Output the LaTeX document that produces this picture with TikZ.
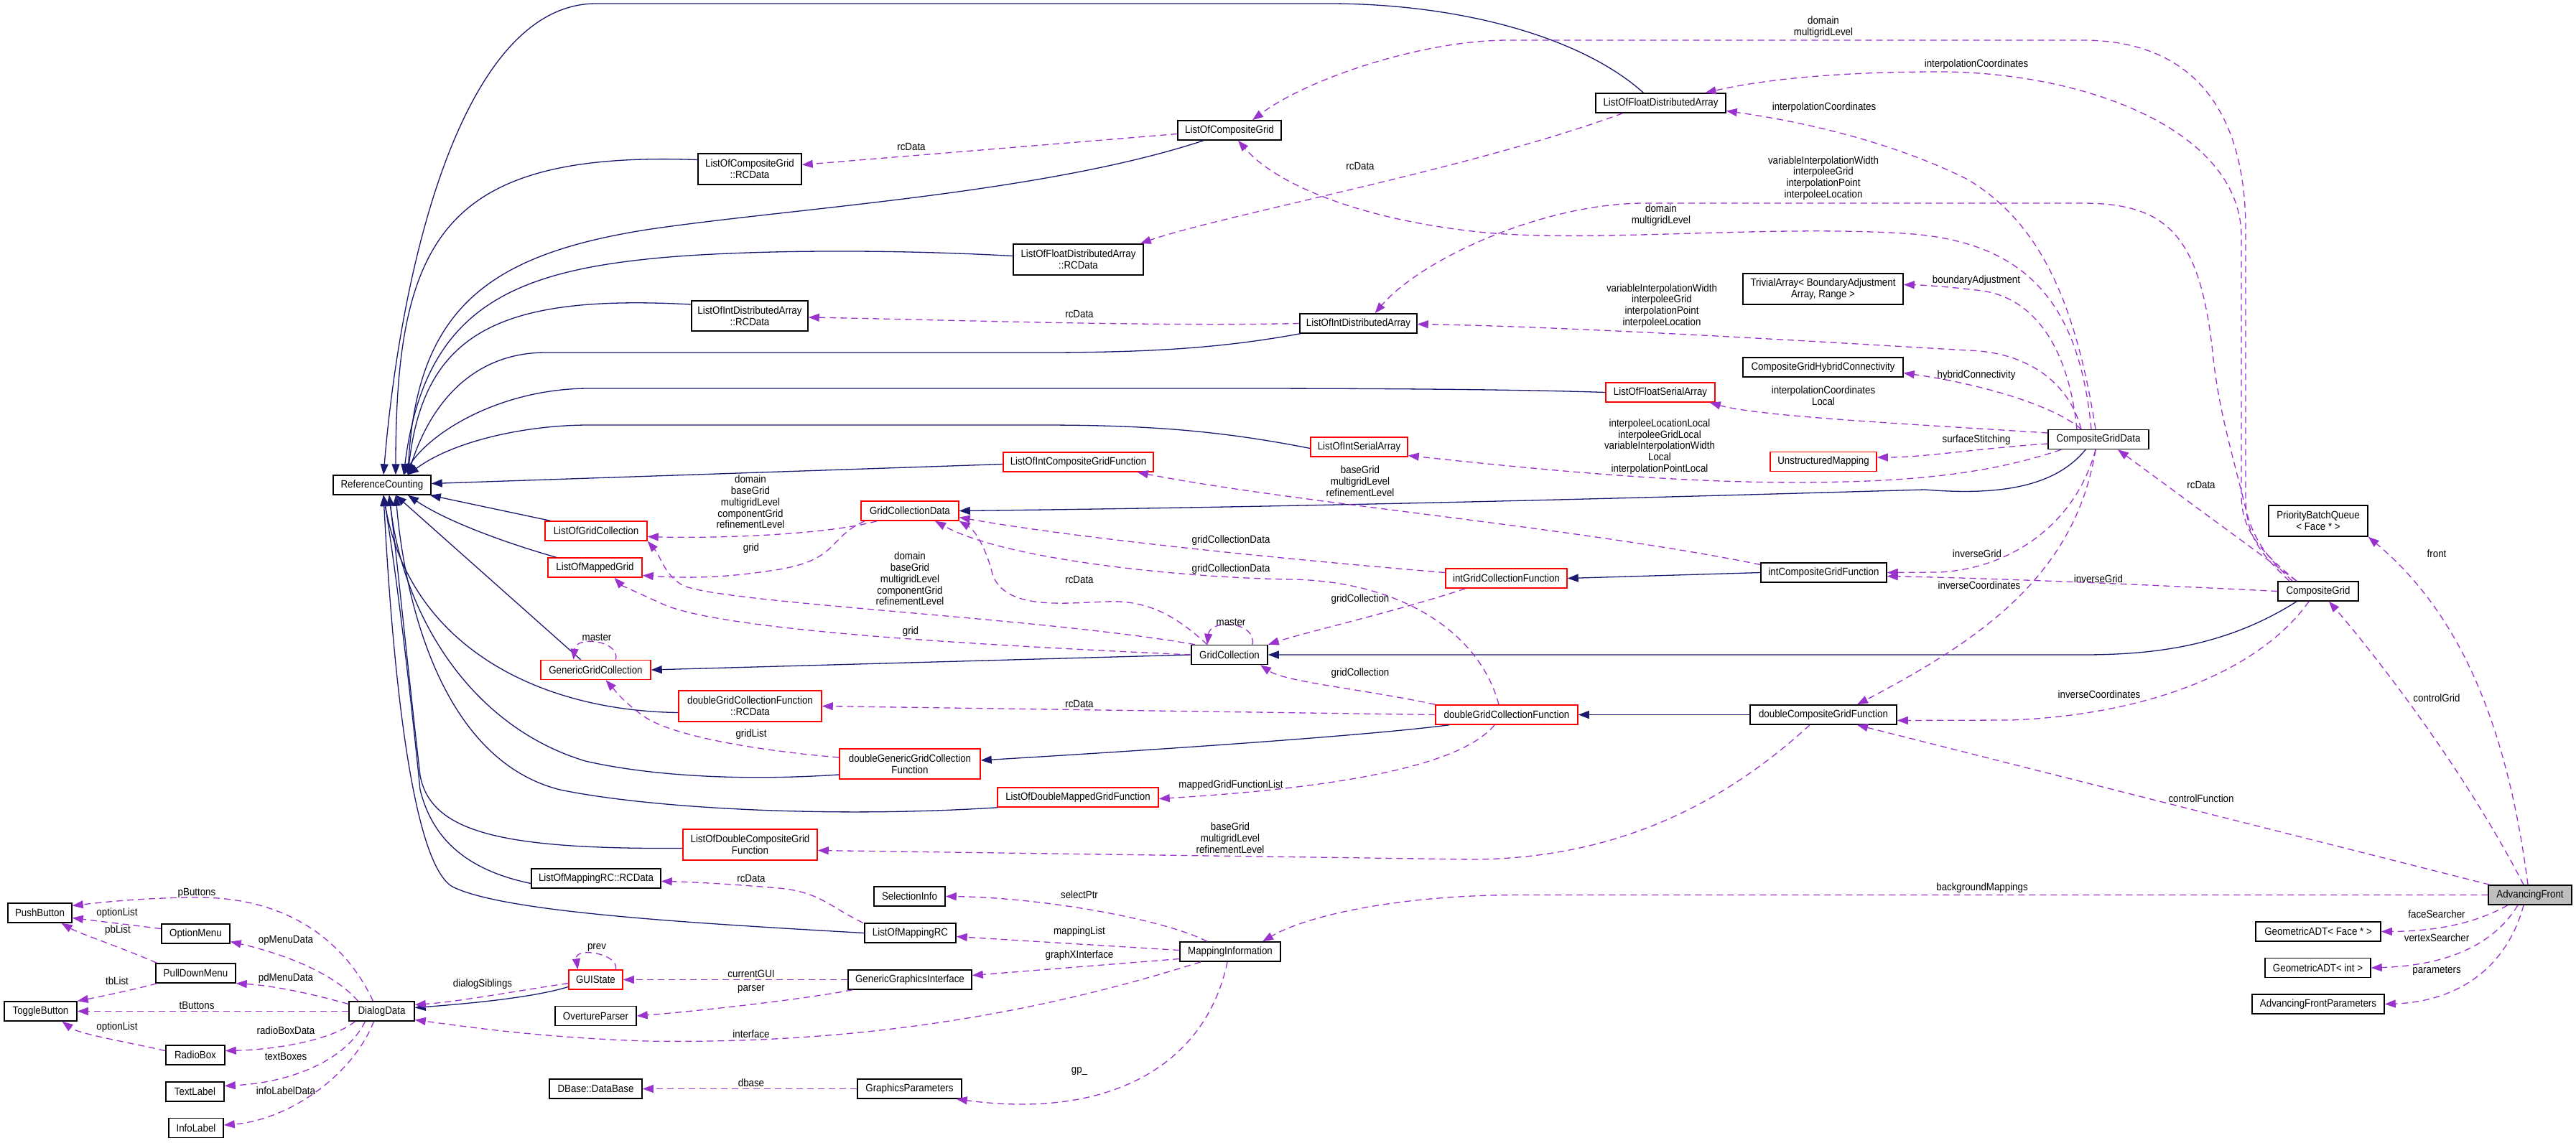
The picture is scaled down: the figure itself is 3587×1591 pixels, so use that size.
\documentclass[tikz,border=0pt]{standalone}
\usepackage{fontspec}
\newfontfamily\dfont[FakeStretch=0.9]{Liberation Sans}
\usetikzlibrary{arrows.meta}
\definecolor{navy}{RGB}{25,25,112}
\definecolor{purp}{RGB}{154,50,205}
\definecolor{afgray}{RGB}{191,191,191}
\begin{document}
\begin{tikzpicture}[x=1pt,y=-1pt,
  every node/.style={font={\dfont\fontsize{14.8pt}{15.8pt}\selectfont}},
  cbox/.style={draw=black,line width=1.5pt,fill=white,inner sep=0pt,align=center},
  rbox/.style={cbox,draw=red},
  inhedge/.style={draw=navy,line width=1.3pt,-{Triangle[length=15pt,width=11pt]}},
  usedge/.style={draw=purp,line width=1.3pt,dash pattern=on 9pt off 6pt,-{Triangle[length=15pt,width=11pt]}},
  elabel/.style={inner sep=0pt,align=center}]
\useasboundingbox (0,0) rectangle (3587,1591);

% ---------- nodes ----------
\node[cbox,minimum width=136pt,minimum height=27pt] (RC) at (532,675.5) {ReferenceCounting};
\node[cbox,minimum width=144pt,minimum height=27pt] (LoCG) at (1712,181.5) {ListOfCompositeGrid};
\node[cbox,minimum width=144pt,minimum height=43pt] (LoCGRC) at (1044,235.5) {ListOfCompositeGrid\\::RCData};
\node[cbox,minimum width=181pt,minimum height=27pt] (LoFDA) at (2312.5,143.5) {ListOfFloatDistributedArray};
\node[cbox,minimum width=181pt,minimum height=43pt] (LoFDARC) at (1501.5,361.5) {ListOfFloatDistributedArray\\::RCData};
\node[cbox,minimum width=162pt,minimum height=42pt] (LoIDARC) at (1044,440) {ListOfIntDistributedArray\\::RCData};
\node[cbox,minimum width=163pt,minimum height=27pt] (LoIDA) at (1891.5,450.5) {ListOfIntDistributedArray};
\node[cbox,minimum width=223pt,minimum height=43pt] (TA) at (2538.5,402.5) {TrivialArray< BoundaryAdjustment\\Array, Range >};
\node[cbox,minimum width=223pt,minimum height=27pt] (CGHC) at (2538.5,511.5) {CompositeGridHybridConnectivity};
\node[rbox,minimum width=152pt,minimum height=27pt] (LoFSA) at (2312,546.5) {ListOfFloatSerialArray};
\node[rbox,minimum width=135pt,minimum height=27pt] (LoISA) at (1892.5,622.5) {ListOfIntSerialArray};
\node[rbox,minimum width=148pt,minimum height=27pt] (UM) at (2539,643) {UnstructuredMapping};
\node[cbox,minimum width=140pt,minimum height=27pt] (CGD) at (2922,612) {CompositeGridData};
\node[cbox,minimum width=138pt,minimum height=43pt] (PBQ) at (3228,725.5) {PriorityBatchQueue\\< Face * >};
\node[cbox,minimum width=112pt,minimum height=27pt] (CG) at (3228,823.5) {CompositeGrid};
\node[rbox,minimum width=209pt,minimum height=27pt] (LoICGF) at (1501.5,643.5) {ListOfIntCompositeGridFunction};
\node[rbox,minimum width=136pt,minimum height=27pt] (GCD) at (1267,711.5) {GridCollectionData};
\node[cbox,minimum width=175pt,minimum height=27pt] (intCGF) at (2539.5,797.5) {intCompositeGridFunction};
\node[rbox,minimum width=169pt,minimum height=27pt] (intGCF) at (2097.5,805.5) {intGridCollectionFunction};
\node[rbox,minimum width=142pt,minimum height=27pt] (LoGC) at (830,739.5) {ListOfGridCollection};
\node[rbox,minimum width=131pt,minimum height=27pt] (LoMG) at (828.5,790.5) {ListOfMappedGrid};
\node[rbox,minimum width=153pt,minimum height=27pt] (GGC) at (829.5,933) {GenericGridCollection};
\node[cbox,minimum width=106pt,minimum height=27pt] (GC) at (1712,912) {GridCollection};
\node[rbox,minimum width=199pt,minimum height=43pt] (dGCFRC) at (1044.5,983.5) {doubleGridCollectionFunction\\::RCData};
\node[rbox,minimum width=198pt,minimum height=27pt] (dGCF) at (2098,995.5) {doubleGridCollectionFunction};
\node[cbox,minimum width=204pt,minimum height=27pt] (dCGF) at (2539,995.5) {doubleCompositeGridFunction};
\node[rbox,minimum width=196pt,minimum height=42pt] (dGGCF) at (1267,1064) {doubleGenericGridCollection\\Function};
\node[rbox,minimum width=224pt,minimum height=27pt] (LoDMGF) at (1501,1110.5) {ListOfDoubleMappedGridFunction};
\node[rbox,minimum width=187pt,minimum height=43pt] (LoDCGF) at (1044.5,1176.5) {ListOfDoubleCompositeGrid\\Function};
\node[cbox,fill=afgray,minimum width=116pt,minimum height=27pt] (AF) at (3523,1246.5) {AdvancingFront};
\node[cbox,minimum width=174pt,minimum height=27pt] (GADTF) at (3228,1297.5) {GeometricADT< Face * >};
\node[cbox,minimum width=147pt,minimum height=27pt] (GADTI) at (3227.5,1348) {GeometricADT< int >};
\node[cbox,minimum width=184pt,minimum height=27pt] (AFP) at (3228,1398.5) {AdvancingFrontParameters};
\node[cbox,minimum width=180pt,minimum height=27pt] (LoMRCRC) at (830,1223.5) {ListOfMappingRC::RCData};
\node[cbox,minimum width=99pt,minimum height=27pt] (SI) at (1266.5,1248.5) {SelectionInfo};
\node[cbox,minimum width=127pt,minimum height=27pt] (LoMRC) at (1267.5,1299.5) {ListOfMappingRC};
\node[cbox,minimum width=140pt,minimum height=27pt] (MI) at (1713,1325.5) {MappingInformation};
\node[cbox,minimum width=172pt,minimum height=27pt] (GGI) at (1267,1364.5) {GenericGraphicsInterface};
\node[cbox,minimum width=145pt,minimum height=27pt] (GP) at (1266.5,1516.5) {GraphicsParameters};
\node[cbox,minimum width=129pt,minimum height=27pt] (DB) at (829.5,1516.5) {DBase::DataBase};
\node[rbox,minimum width=75pt,minimum height=27pt] (GUI) at (829.5,1364.5) {GUIState};
\node[cbox,minimum width=113pt,minimum height=27pt] (OP) at (829.5,1415) {OvertureParser};
\node[cbox,minimum width=91pt,minimum height=27pt] (DD) at (531.5,1408.5) {DialogData};
\node[cbox,minimum width=89pt,minimum height=27pt] (PB) at (55.5,1271.5) {PushButton};
\node[cbox,minimum width=95pt,minimum height=27pt] (OM) at (272.5,1300.5) {OptionMenu};
\node[cbox,minimum width=111pt,minimum height=27pt] (PDM) at (272.5,1355.5) {PullDownMenu};
\node[cbox,minimum width=101pt,minimum height=27pt] (TB) at (56.5,1408.5) {ToggleButton};
\node[cbox,minimum width=82pt,minimum height=27pt] (RB) at (272,1469.5) {RadioBox};
\node[cbox,minimum width=81pt,minimum height=27pt] (TL) at (271.5,1520.5) {TextLabel};
\node[cbox,minimum width=76pt,minimum height=27pt] (IL) at (273,1571) {InfoLabel};

% ---------- inheritance edges ----------
\draw[inhedge] ([xshift=-24pt]LoFDA.north) .. controls (2200,50) and (2030,5) .. (1850,5) -- (830,5) .. controls (650,5) and (560,350) .. ([xshift=2pt]RC.north);
\draw[inhedge] ([yshift=13pt]LoCGRC.west) .. controls (620,210) and (551,330) .. ([xshift=19pt]RC.north);
\draw[inhedge] ([xshift=-36pt]LoCG.south) .. controls (1450,270) and (1100,290) .. (900,320) .. controls (680,355) and (580,430) .. ([xshift=36pt]RC.north);
\draw[inhedge] ([yshift=5pt]LoFDARC.west) .. controls (1200,345) and (1000,350) .. (900,361) .. controls (700,382) and (590,440) .. ([xshift=30pt]RC.north);
\draw[inhedge] ([yshift=16pt]LoIDARC.west) .. controls (700,410) and (590,460) .. ([xshift=36pt]RC.north);
\draw[inhedge] ([xshift=-81pt]LoIDA.south) .. controls (1700,485) and (1600,491) .. (1450,491) -- (760,491) .. controls (660,491) and (600,560) .. ([xshift=36pt]RC.north);
\draw[inhedge] (LoFSA.west) .. controls (2100,542) and (1900,541) .. (1700,541) -- (820,541) .. controls (700,541) and (600,600) .. ([xshift=30pt]RC.north);
\draw[inhedge] ([yshift=-2pt]LoISA.west) .. controls (1700,600) and (1600,592) .. (1450,592) -- (820,592) .. controls (730,592) and (630,615) .. ([xshift=36pt]RC.north);
\draw[inhedge] ([yshift=-3pt]LoICGF.west) -- ([yshift=2pt]RC.east);
\draw[inhedge] ([xshift=-64pt]LoGC.north) -- ([xshift=-2pt]RC.south east);
\draw[inhedge] ([xshift=-54pt]LoMG.north) .. controls (700,755) and (620,725) .. ([xshift=36pt]RC.south);
\draw[inhedge] ([xshift=-21pt]GGC.north) -- ([xshift=19pt]RC.south);
\draw[inhedge] ([yshift=-9pt]dGCFRC.west) .. controls (750,990) and (570,900) .. ([xshift=2pt]RC.south);
\draw[inhedge] ([yshift=-15pt]dGGCF.west) .. controls (1000,1090) and (880,1075) .. (815,1060) .. controls (650,1010) and (560,850) .. ([xshift=10pt]RC.south);
\draw[inhedge] ([xshift=-112pt]LoDMGF.south) .. controls (1150,1140) and (900,1125) .. (780,1100) .. controls (620,1060) and (565,850) .. ([xshift=19pt]RC.south);
\draw[inhedge] ([yshift=-5pt]LoDCGF.west) .. controls (700,1183) and (600,1160) .. (585,1080) .. controls (570,950) and (555,800) .. ([xshift=10pt]RC.south);
\draw[inhedge] ([yshift=-7pt]LoMRCRC.west) .. controls (640,1210) and (600,1160) .. (585,1100) .. controls (570,950) and (552,800) .. ([xshift=2pt]RC.south);
\draw[inhedge] (LoMRC.west) .. controls (950,1285) and (700,1270) .. (630,1235) .. controls (570,1200) and (545,900) .. ([xshift=2pt]RC.south);
\draw[inhedge] ([yshift=-10pt]GUI.west) .. controls (740,1390) and (650,1398) .. ([yshift=5pt]DD.east);
\draw[inhedge] ([xshift=-18pt]CGD.south) .. controls (2860,680) and (2780,690) .. (2680,682) .. controls (2400,690) and (1900,705) .. (GCD.east);
\draw[inhedge] ([xshift=-30pt]CG.south) .. controls (3100,900) and (3000,912) .. (2900,912) -- (GC.east);
\draw[inhedge] (intCGF.west) -- (intGCF.east);
\draw[inhedge] (dCGF.west) -- (dGCF.east);
\draw[inhedge] (GC.west) -- (GGC.east);
\draw[inhedge] ([xshift=-80pt]dGCF.south) .. controls (1900,1025) and (1600,1045) .. ([yshift=5pt]dGGCF.east);

% ---------- usage edges ----------
\draw[usedge] ([yshift=-5pt]LoCG.west) -- ([yshift=6pt]LoCGRC.east);
\draw[usedge] ([xshift=-40pt]CG.north) .. controls (3140,765) and (3127,740) .. (3127,690) -- (3127,320) .. controls (3127,150) and (3050,56) .. (2900,56) -- (2100,56) .. controls (1980,56) and (1820,110) .. ([xshift=32pt]LoCG.north);
\draw[usedge] ([xshift=-30pt]CG.north) .. controls (3150,770) and (3121,740) .. (3121,690) -- (3121,330) .. controls (3121,180) and (2900,100) .. (2700,100) .. controls (2550,100) and (2450,112) .. ([xshift=62pt]LoFDA.north);
\draw[usedge] ([xshift=-36pt]CG.north) .. controls (3150,770) and (3135,745) .. (3125,700) .. controls (3105,620) and (3090,570) .. (3082,500) .. controls (3065,330) and (3020,283) .. (2900,283) -- (2290,283) .. controls (2150,283) and (1980,360) .. ([xshift=23pt]LoIDA.north);
\draw[usedge] ([xshift=-4pt]CGD.north) .. controls (2890,420) and (2840,310) .. (2740,250) .. controls (2620,190) and (2480,165) .. ([yshift=-11pt]LoFDA.east);
\draw[usedge] ([xshift=-10pt]CGD.north) .. controls (2895,420) and (2820,335) .. (2650,325) .. controls (2450,313) and (2200,340) .. (2050,322) .. controls (1900,305) and (1780,260) .. ([xshift=12pt]LoCG.south);
\draw[usedge] ([xshift=-53pt]LoFDA.south) .. controls (2050,235) and (1700,300) .. ([xshift=-5pt]LoFDARC.north east);
\draw[usedge] ([xshift=-24pt]CGD.north) .. controls (2880,530) and (2820,490) .. (2740,488) .. controls (2600,480) and (2200,455) .. ([yshift=-1pt]LoIDA.east);
\draw[usedge] (LoIDA.west) .. controls (1600,455) and (1300,445) .. ([yshift=-2pt]LoIDARC.east);
\draw[usedge] ([xshift=-30pt]CGD.north) .. controls (2880,480) and (2830,415) .. (2760,405) .. controls (2720,400) and (2680,397) .. ([yshift=6pt]TA.east);
\draw[usedge] ([xshift=-24pt]CGD.north) .. controls (2860,565) and (2760,535) .. ([yshift=-8pt]CGHC.east);
\draw[usedge] ([yshift=9pt]CGD.west) .. controls (2650,590) and (2450,580) .. ([xshift=-8pt]LoFSA.south east);
\draw[usedge] ([yshift=-6pt]CGD.west) .. controls (2750,625) and (2680,637) .. ([yshift=6pt]UM.east);
\draw[usedge] ([xshift=-52pt]CGD.south) .. controls (2800,650) and (2720,665) .. (2600,670) .. controls (2400,678) and (2200,660) .. ([yshift=-12pt]LoISA.east);
\draw[usedge] ([xshift=-30pt]CG.north) -- ([xshift=27pt]CGD.south);
\draw[usedge] (CG.west) .. controls (3000,815) and (2800,806) .. ([yshift=-5pt]intCGF.east);
\draw[usedge] ([xshift=-4pt]CGD.south) .. controls (2890,730) and (2800,792) .. (2700,797) -- (intCGF.east);
\draw[usedge] ([xshift=-4pt]CGD.south) .. controls (2890,800) and (2760,890) .. ([xshift=47pt]dCGF.north);
\draw[usedge] ([xshift=-13pt]CG.south) .. controls (3150,930) and (3000,995) .. (2800,1003) -- ([yshift=-8pt]dCGF.east);
\draw[usedge] ([xshift=-9pt]AF.north) .. controls (3420,1050) and (3280,880) .. ([xshift=15pt]CG.south);
\draw[usedge] ([xshift=-3pt]AF.north) .. controls (3490,1000) and (3420,850) .. (PBQ.south east);
\draw[usedge] ([xshift=-56pt]AF.north) -- ([xshift=47pt]dCGF.south);
\draw[usedge] (AF.west) -- (2120,1246.5) .. controls (1950,1246) and (1820,1275) .. ([xshift=45pt]MI.north);
\draw[usedge] ([xshift=-31pt]AF.south) .. controls (3440,1290) and (3380,1297) .. (GADTF.east);
\draw[usedge] ([xshift=-17pt]AF.south) .. controls (3470,1320) and (3400,1345) .. (GADTI.east);
\draw[usedge] ([xshift=-9pt]AF.south) .. controls (3490,1350) and (3420,1395) .. (AFP.east);
\draw[usedge] ([xshift=-19pt]dCGF.south) .. controls (2400,1120) and (2250,1196) .. (2050,1197) -- ([yshift=-8pt]LoDCGF.east);
\draw[usedge] ([xshift=-17pt]dGCF.south) .. controls (2040,1060) and (1900,1095) .. ([yshift=-2pt]LoDMGF.east);
\draw[usedge] (dGCF.west) -- (dGCFRC.east);
\draw[usedge] (dGCF.north west) .. controls (1900,960) and (1790,950) .. ([xshift=43pt]GC.south);
\draw[usedge] ([xshift=-57pt]intGCF.south) .. controls (1950,850) and (1820,880) .. (GC.north east);
\draw[usedge] ([xshift=-11pt]dGCF.north) .. controls (2060,880) and (1950,810) .. (1800,807) .. controls (1650,805) and (1400,780) .. ([xshift=35pt]GCD.south);
\draw[usedge] ([yshift=8pt]intGCF.west) .. controls (1800,780) and (1500,750) .. ([yshift=-9pt]GCD.east);
\draw[usedge] ([yshift=11pt]intCGF.west) .. controls (2200,735) and (1800,700) .. ([xshift=-23pt]LoICGF.south east);
\draw[usedge] ([xshift=-31pt]GC.north) .. controls (1640,860) and (1600,835) .. (1540,838) .. controls (1480,840) and (1400,850) .. (1382,800) .. controls (1375,770) and (1360,740) .. (GCD.south east);
\draw[usedge] ([xshift=32pt]GC.north) .. controls (1750,865) and (1685,862) .. ([xshift=-31pt]GC.north);
\draw[usedge] ([xshift=-46pt]GCD.south) .. controls (1150,745) and (1000,750) .. ([yshift=-8pt]LoGC.east);
\draw[usedge] ([xshift=-63pt]GCD.south) .. controls (1150,750) and (1170,782) .. (1072,795) .. controls (1000,806) and (950,805) .. ([yshift=-11pt]LoMG.east);
\draw[usedge] ([xshift=-48pt]GC.north) .. controls (1450,860) and (1000,840) .. (950,815) .. controls (925,800) and (920,775) .. (LoGC.south east);
\draw[usedge] (GC.west) .. controls (1400,900) and (1000,880) .. (920,840) .. controls (880,822) and (865,815) .. ([xshift=27pt]LoMG.south);
\draw[usedge] ([xshift=28pt]GGC.north) .. controls (864,892) and (802,885) .. ([xshift=-31pt]GGC.north);
\draw[usedge] ([yshift=9pt]dGGCF.west) .. controls (1050,1045) and (940,1025) .. (900,1000) .. controls (870,980) and (855,960) .. ([xshift=14pt]GGC.south);
\draw[usedge] ([yshift=2pt]MI.west) -- ([yshift=-5pt]LoMRC.east);
\draw[usedge] ([xshift=-32pt]MI.north) .. controls (1620,1280) and (1450,1250) .. (SI.east);
\draw[usedge] ([yshift=-10pt]MI.west) -- ([yshift=6pt]GGI.east);
\draw[usedge] ([xshift=-41pt]MI.south) .. controls (1450,1410) and (1200,1455) .. (900,1450) .. controls (750,1445) and (650,1430) .. ([yshift=-12pt]DD.east);
\draw[usedge] ([xshift=-4pt]MI.south) .. controls (1680,1480) and (1550,1560) .. ([xshift=-8pt]GP.south east);
\draw[usedge] (GP.west) -- (DB.east);
\draw[usedge] ([xshift=-66pt]LoMRC.north) .. controls (1150,1260) and (1140,1240) .. (1072,1236) .. controls (1000,1230) and (950,1228) .. ([yshift=-4pt]LoMRCRC.east);
\draw[usedge] (GGI.west) -- (GUI.east);
\draw[usedge] ([xshift=-80pt]GGI.south) .. controls (1100,1395) and (950,1410) .. (OP.east);
\draw[usedge] ([yshift=-5pt]GUI.west) .. controls (720,1380) and (640,1395) .. ([yshift=9pt]DD.east);
\draw[usedge] ([xshift=28pt]GUI.north) .. controls (862,1328) and (800,1318) .. ([xshift=-25pt]GUI.north);
\draw[usedge] ([xshift=-12pt]DD.north) .. controls (480,1310) and (400,1250) .. (276,1250) .. controls (200,1250) and (130,1258) .. ([yshift=10pt]PB.east);
\draw[usedge] ([yshift=7pt]OM.west) -- ([yshift=-7pt]PB.east);
\draw[usedge] ([xshift=-54pt]PDM.north) .. controls (170,1320) and (110,1300) .. ([xshift=30pt]PB.south);
\draw[usedge] ([xshift=-33pt]DD.north) .. controls (460,1350) and (380,1325) .. ([yshift=-11pt]OM.east);
\draw[usedge] ([yshift=10pt]DD.west) .. controls (420,1380) and (370,1372) .. (PDM.south east);
\draw[usedge] ([xshift=-54pt]PDM.south) .. controls (180,1380) and (130,1390) .. (TB.north east);
\draw[usedge] (DD.west) -- (TB.east);
\draw[usedge] ([yshift=6pt]RB.west) .. controls (170,1450) and (110,1440) .. ([xshift=30pt]TB.south);
\draw[usedge] ([xshift=-37pt]DD.south) .. controls (460,1450) and (380,1462) .. ([yshift=6pt]RB.east);
\draw[usedge] ([xshift=-23pt]DD.south) .. controls (480,1480) and (400,1508) .. ([yshift=8pt]TL.east);
\draw[usedge] ([xshift=-11pt]DD.south) .. controls (490,1500) and (400,1560) .. ([yshift=4pt]IL.east);

% ---------- labels ----------
\node[elabel] (l1) at (1269,204) {rcData};
\node[elabel] (l2) at (2539,38) {domain\\multigridLevel};
\node[elabel] (l3) at (2752,90) {interpolationCoordinates};
\node[elabel] (l4) at (2540,150) {interpolationCoordinates};
\node[elabel] (l5) at (2313,300) {domain\\multigridLevel};
\node[elabel] (l6) at (1894,231) {rcData};
\node[elabel] (l7) at (2314,426) {variableInterpolationWidth\\interpoleeGrid\\interpolationPoint\\interpoleeLocation};
\node[elabel] (l8) at (2539,248) {variableInterpolationWidth\\interpoleeGrid\\interpolationPoint\\interpoleeLocation};
\node[elabel] (l9) at (1503,437) {rcData};
\node[elabel] (l10) at (2752,391) {boundaryAdjustment};
\node[elabel] (l11) at (2752,523) {hybridConnectivity};
\node[elabel] (l12) at (2539,551) {interpolationCoordinates\\Local};
\node[elabel] (l13) at (2752,613) {surfaceStitching};
\node[elabel] (l14) at (2311,622) {interpoleeLocationLocal\\interpoleeGridLocal\\variableInterpolationWidth\\Local\\interpolationPointLocal};
\node[elabel] (l16) at (3065,675) {rcData};
\node[elabel] (l17a) at (2922,806) {inverseGrid};
\node[elabel] (l17b) at (2753,771) {inverseGrid};
\node[elabel] (l17c) at (2756,815) {inverseCoordinates};
\node[elabel] (l18) at (2923,967) {inverseCoordinates};
\node[elabel] (l22) at (3393,972) {controlGrid};
\node[elabel] (l23) at (3393,771) {front};
\node[elabel] (l24) at (3065,1112) {controlFunction};
\node[elabel] (l25) at (2760,1237) {backgroundMappings};
\node[elabel] (l26) at (3393,1273) {faceSearcher};
\node[elabel] (l27) at (3393,1306) {vertexSearcher};
\node[elabel] (l28) at (3393,1352) {parameters};
\node[elabel] (l29) at (1713,1167) {baseGrid\\multigridLevel\\refinementLevel};
\node[elabel] (l29b) at (1714,1094) {mappedGridFunctionList};
\node[elabel] (l30) at (1503,980) {rcData};
\node[elabel] (l31) at (1894,938) {gridCollection};
\node[elabel] (l32) at (1894,835) {gridCollection};
\node[elabel] (l33) at (1714,793) {gridCollectionData};
\node[elabel] (l34) at (1714,753) {gridCollectionData};
\node[elabel] (l35) at (1894,670) {baseGrid\\multigridLevel\\refinementLevel};
\node[elabel] (l36) at (1503,807) {rcData};
\node[elabel] (l37) at (1714,867) {master};
\node[elabel] (l38) at (1045,699) {domain\\baseGrid\\multigridLevel\\componentGrid\\refinementLevel};
\node[elabel] (l39) at (1046,764) {grid};
\node[elabel] (l40) at (1267,806) {domain\\baseGrid\\multigridLevel\\componentGrid\\refinementLevel};
\node[elabel] (l41) at (1268,880) {grid};
\node[elabel] (l43) at (831,888) {master};
\node[elabel] (l44) at (1046,1023) {gridList};
\node[elabel] (l46) at (1503,1298) {mappingList};
\node[elabel] (l47) at (1503,1246) {selectPtr};
\node[elabel] (l48) at (1503,1331) {graphXInterface};
\node[elabel] (l49) at (1046,1440) {interface};
\node[elabel] (l50) at (1503,1492) {gp\_};
\node[elabel] (l51) at (1046,1508) {dbase};
\node[elabel] (l52) at (1046,1223) {rcData};
\node[elabel] (l53) at (1046,1356) {currentGUI};
\node[elabel] (l54) at (1046,1378) {parser};
\node[elabel] (l55) at (672,1371) {dialogSiblings};
\node[elabel] (l56) at (831,1320) {prev};
\node[elabel] (l57) at (274,1244) {pButtons};
\node[elabel] (l58) at (163,1272) {optionList};
\node[elabel] (l59) at (164,1296) {pbList};
\node[elabel] (l60) at (398,1310) {opMenuData};
\node[elabel] (l61) at (398,1363) {pdMenuData};
\node[elabel] (l62) at (163,1366) {tbList};
\node[elabel] (l63) at (274,1400) {tButtons};
\node[elabel] (l64) at (163,1431) {optionList};
\node[elabel] (l65) at (398,1435) {radioBoxData};
\node[elabel] (l66) at (398,1471) {textBoxes};
\node[elabel] (l67) at (398,1519) {infoLabelData};
\end{tikzpicture}
\end{document}
